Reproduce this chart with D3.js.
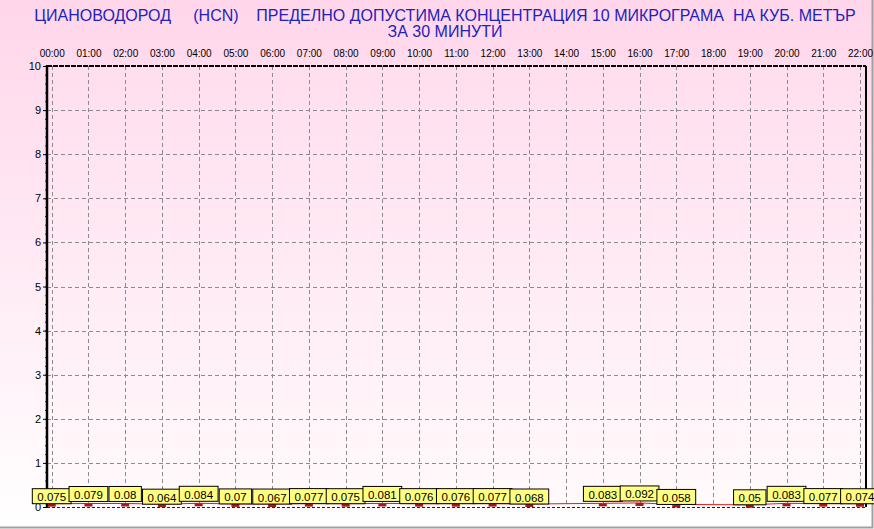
<!DOCTYPE html>
<html>
<head>
<meta charset="utf-8">
<script src="https://cdn.jsdelivr.net/npm/d3@7"></script>
<style>
body { margin: 0; background: #fff; }
svg { display: block; font-family: "Liberation Sans", Arial, sans-serif; }
</style>
</head>
<body>
<svg id="chart"></svg>
<script>
var width = 874;
var height = 529;

// data (null = no reading for that hour)
var hours = ['00:00','01:00','02:00','03:00','04:00','05:00','06:00','07:00','08:00','09:00','10:00','11:00',
             '12:00','13:00','14:00','15:00','16:00','17:00','18:00','19:00','20:00','21:00','22:00'];
var values = [0.075, 0.079, 0.08, 0.064, 0.084, 0.07, 0.067, 0.077, 0.075, 0.081, 0.076, 0.076,
              0.077, 0.068, null, 0.083, 0.092, 0.058, null, 0.05, 0.083, 0.077, 0.074];
var yTicks = [0, 1, 2, 3, 4, 5, 6, 7, 8, 9, 10];
var titleLines = ['ЦИАНОВОДОРОД     (HCN)    ПРЕДЕЛНО ДОПУСТИМА КОНЦЕНТРАЦИЯ 10 МИКРОГРАМА  НА КУБ. МЕТЪР',
                  'ЗА 30 МИНУТИ'];

var data = hours.map((h, i) => ({hour: i, label: h, value: values[i]}));
var points = data.filter(d => d.value !== null);

var plotLeft = 47, plotRight = 866, plotTop = 66, plotBottom = 507;

var xScale = d3.scaleLinear()
                .domain([0, 22])
                .range([51.7, 860]);
var yScale = d3.scaleLinear()
                .domain([0, 10])
                .range([plotBottom, plotTop]);

var svg = d3.select('#chart')
    .attr('width', width)
    .attr('height', height);

var defs = svg.append('defs');
var bg = defs.append('linearGradient')
    .attr('id', 'bg').attr('x1', 0).attr('y1', 0).attr('x2', 0).attr('y2', 1);
bg.append('stop').attr('offset', '0%').attr('stop-color', '#ffd6ea');
bg.append('stop').attr('offset', '100%').attr('stop-color', '#ffffff');
var plotBg = defs.append('linearGradient')
    .attr('id', 'plotbg').attr('x1', 0).attr('y1', 0).attr('x2', 0).attr('y2', 1);
plotBg.append('stop').attr('offset', '0%').attr('stop-color', '#ffdeee');
plotBg.append('stop').attr('offset', '100%').attr('stop-color', '#fffafc');

svg.append('rect')
    .attr('width', width).attr('height', height)
    .attr('fill', 'url(#bg)');

svg.append('rect')
    .attr('x', plotLeft).attr('y', plotTop)
    .attr('width', plotRight - plotLeft).attr('height', plotBottom - plotTop)
    .attr('fill', 'url(#plotbg)');

// outer frame (right and bottom edge)
svg.append('path')
    .attr('d', 'M872.5,0V527.5H0')
    .attr('fill', 'none')
    .attr('stroke', '#a0a0a0')
    .attr('stroke-width', 2);

// title
svg.append('g')
  .selectAll('text')
    .data(titleLines)
    .enter()
  .append('text')
    .attr('x', 445)
    .attr('y', (d, i) => 21 + i * 16)
    .attr('text-anchor', 'middle')
    .attr('fill', '#2222bb')
    .style('font-size', '16px')
    .style('white-space', 'pre')
    .text(d => d);

// grid
svg.append('g')
  .selectAll('line')
    .data(hours.map((h, i) => i))
    .enter()
  .append('line')
    .attr('x1', d => Math.round(xScale(d)) + 0.5).attr('x2', d => Math.round(xScale(d)) + 0.5)
    .attr('y1', plotTop).attr('y2', plotBottom)
    .attr('stroke', '#8c8c8c')
    .attr('stroke-dasharray', '4,3');

svg.append('g')
  .selectAll('line')
    .data(yTicks.slice(1, -1))
    .enter()
  .append('line')
    .attr('x1', plotLeft).attr('x2', plotRight)
    .attr('y1', d => Math.round(yScale(d)) + 0.5).attr('y2', d => Math.round(yScale(d)) + 0.5)
    .attr('stroke', '#8c8c8c')
    .attr('stroke-dasharray', '4,3');

// y axis with minor ticks
var yAxis = d3.axisLeft(yScale)
                .tickValues(yTicks)
                .tickSize(4)
                .tickPadding(2)
                .tickFormat(d3.format('d'));
var yMinor = d3.axisLeft(yScale)
                .tickValues(d3.range(0, 50).map(i => i * 0.2))
                .tickSize(2)
                .tickFormat('');
var gMinor = svg.append('g')
    .attr('transform', 'translate(' + plotLeft + ',0)')
    .call(yMinor);
gMinor.select('.domain').remove();
gMinor.selectAll('line').attr('stroke', '#333');

var gy = svg.append('g')
    .attr('transform', 'translate(' + plotLeft + ',0)')
    .call(yAxis);
gy.select('.domain').remove();
gy.selectAll('text')
    .attr('fill', '#000')
    .style('font-size', '11px')
    .style('font-family', '"Liberation Sans", Arial, sans-serif');

// x axis labels on top
var xAxis = d3.axisTop(xScale)
                .tickValues(hours.map((h, i) => i))
                .tickSize(0)
                .tickPadding(0)
                .tickFormat(i => hours[i]);
var gx = svg.append('g')
    .attr('transform', 'translate(0,57)')
    .call(xAxis);
gx.select('.domain').remove();
gx.selectAll('text')
    .attr('fill', '#000')
    .attr('dy', 0)
    .style('font-size', '10px')
    .style('font-family', '"Liberation Sans", Arial, sans-serif');

// plot borders
svg.append('line')
    .attr('x1', plotLeft).attr('x2', plotRight)
    .attr('y1', plotTop).attr('y2', plotTop)
    .attr('stroke', '#000').attr('stroke-width', 2)
    .attr('stroke-dasharray', '5,1');
svg.append('line')
    .attr('x1', plotLeft).attr('x2', plotRight)
    .attr('y1', plotBottom + 0.5).attr('y2', plotBottom + 0.5)
    .attr('stroke', '#222')
    .attr('stroke-dasharray', '3,2');
svg.append('line')
    .attr('x1', plotRight).attr('x2', plotRight)
    .attr('y1', plotTop).attr('y2', plotBottom)
    .attr('stroke', '#000').attr('stroke-width', 2);
svg.append('line')
    .attr('x1', plotLeft).attr('x2', plotLeft)
    .attr('y1', plotTop - 1).attr('y2', plotBottom)
    .attr('stroke', '#000').attr('stroke-width', 2.5);

// series line
var line = d3.line()
    .x(d => xScale(d.hour))
    .y(d => yScale(d.value));
svg.append('path')
    .datum(points)
    .attr('d', line)
    .attr('fill', 'none')
    .attr('stroke', '#d82020')
    .attr('stroke-width', 1);

// markers
svg.append('g')
  .selectAll('rect')
    .data(points)
    .enter()
  .append('rect')
    .attr('x', d => xScale(d.hour) - 4)
    .attr('y', d => yScale(d.value))
    .attr('width', 8)
    .attr('height', 3)
    .attr('fill', '#a81818');

// value labels
var labels = svg.append('g')
  .selectAll('g')
    .data(points)
    .enter()
  .append('g')
    .attr('transform', d => 'translate(' + xScale(d.hour) + ',' + (yScale(d.value) - (d.value >= 0.078 ? 15.5 : 13.5)) + ')');

labels.append('text')
    .attr('text-anchor', 'middle')
    .attr('y', 11)
    .attr('fill', '#000')
    .style('font-size', '11.5px')
    .text(d => String(d.value));

labels.each(function() {
    var g = d3.select(this);
    var w = g.select('text').node().getComputedTextLength() + 10;
    g.insert('rect', 'text')
        .attr('x', -w / 2)
        .attr('y', -1.5)
        .attr('width', w)
        .attr('height', 15)
        .attr('fill', '#ffff80')
        .attr('stroke', '#000')
        .attr('stroke-width', 1);
});
</script>
</body>
</html>
